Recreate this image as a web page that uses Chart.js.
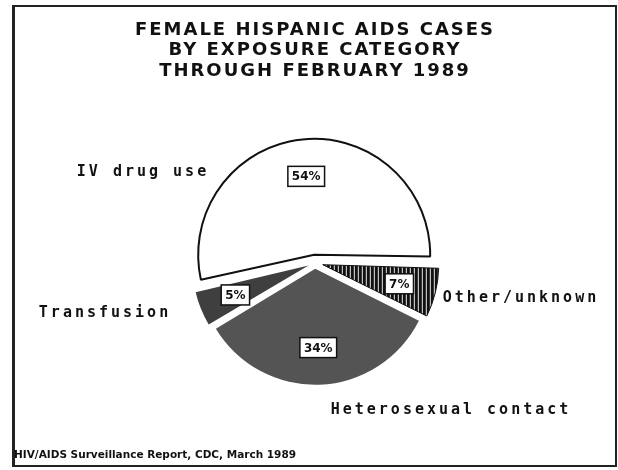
<!DOCTYPE html>
<html>
<head>
<meta charset="utf-8">
<script src="https://cdn.jsdelivr.net/npm/chart.js@4.4.1/dist/chart.umd.min.js"></script>
<style>
  body { margin: 0; background: #fff; }
  #wrap { position: relative; width: 618px; height: 470px; }
  #moldura {
    position: absolute; left: 12px; top: 5px; width: 600px; height: 458px;
    border: 2px solid #222; border-left-width: 3px; pointer-events: none;
  }
</style>
</head>
<body>
<div id="wrap">
  <canvas id="grafico" width="618" height="470"></canvas>
  <div id="moldura"></div>
</div>
<script>
// dados (percentual de casos)
const categorias = ['IV drug use', 'Other/unknown', 'Heterosexual contact', 'Transfusion']
const percentuais = [54, 7, 34, 5]
const rotulosPct = ['54%', '7%', '34%', '5%']

const titulo = ['FEMALE HISPANIC AIDS CASES', 'BY EXPOSURE CATEGORY', 'THROUGH FEBRUARY 1989']
const fonte = 'HIV/AIDS Surveillance Report, CDC, March 1989'

// hachura vertical da fatia "Other/unknown"
function hachura() {
  const c = document.createElement('canvas')
  c.width = 4
  c.height = 4
  const g = c.getContext('2d')
  g.fillStyle = '#111'
  g.fillRect(0, 0, 4, 4)
  g.fillStyle = '#e8e8e8'
  g.fillRect(2, 0, 1, 4)
  return g.createPattern(c, 'repeat')
}

const rotulosPlugin = {
  id: 'rotulos',
  beforeDraw(chart) {
    chart.ctx.letterSpacing = '2px'
  },
  beforeDatasetsDraw(chart) {
    // o Chart.js aumenta o raio das fatias deslocadas; desfaz isso
    // para que todas fiquem com o mesmo raio
    const meta = chart.getDatasetMeta(0)
    const raio = meta.controller.outerRadius
    meta.data.forEach(arc => {
      const circ = arc.endAngle - arc.startAngle
      const fix = 1 - Math.sin(Math.min(Math.PI, circ))
      arc.outerRadius = raio - (arc.options.offset / 4) * fix
    })
  },
  afterDatasetsDraw(chart, args, opts) {
    const ctx = chart.ctx
    const meta = chart.getDatasetMeta(0)
    const raio = meta.controller.outerRadius
    ctx.save()
    ctx.letterSpacing = '0px'
    ctx.textAlign = 'center'
    ctx.textBaseline = 'middle'

    // caixas com percentual dentro das fatias
    ctx.font = 'bold 12px "DejaVu Sans"'
    meta.data.forEach((arc, i) => {
      const p = arc.getProps(['x', 'y', 'startAngle', 'endAngle'])
      const meio = (p.startAngle + p.endAngle) / 2
      // o Chart.js desloca a fatia em offset / 4
      const r = arc.options.offset / 4 + raio * 0.68
      const x = p.x + Math.cos(meio) * r
      const y = p.y + Math.sin(meio) * r
      const w = ctx.measureText(rotulosPct[i]).width + 8
      const h = 20
      ctx.fillStyle = '#fff'
      ctx.fillRect(x - w / 2, y - h / 2, w, h)
      ctx.strokeStyle = '#111'
      ctx.lineWidth = 1.5
      ctx.strokeRect(x - w / 2, y - h / 2, w, h)
      ctx.fillStyle = '#111'
      ctx.fillText(rotulosPct[i], x, y + 1)
    })

    // nomes das categorias fora da pizza
    ctx.font = 'bold 15px "DejaVu Sans Mono"'
    ctx.letterSpacing = '3px'
    const cx = meta.data[0].x
    const cy = meta.data[0].y
    categorias.forEach((nome, i) => {
      const d = opts.posicoes[i]
      ctx.fillText(nome, cx + d[0], cy + d[1])
    })

    // fonte no rodape
    ctx.textAlign = 'left'
    ctx.font = 'bold 10.5px "DejaVu Sans"'
    ctx.letterSpacing = '0px'
    ctx.fillText(fonte, 14, 455)
    ctx.restore()
  },
  afterDraw(chart) {
    chart.ctx.letterSpacing = '0px'
  }
}

const ctx = document.getElementById('grafico').getContext('2d')

new Chart(ctx, {
  type: 'pie',
  data: {
    labels: categorias,
    datasets: [{
      data: percentuais,
      backgroundColor: ['#ffffff', hachura(), '#545454', '#3f3f3f'],
      borderColor: ['#111', '#111', '#545454', '#3f3f3f'],
      borderWidth: [2, 1, 0, 0],
      offset: [32, 32, 24, 28]
    }]
  },
  plugins: [rotulosPlugin],
  options: {
    responsive: false,
    animation: false,
    devicePixelRatio: 1,
    rotation: 257,
    radius: 116,
    layout: { padding: { left: 12, right: 0, top: 0, bottom: 36 } },
    plugins: {
      legend: { display: false },
      tooltip: { enabled: false },
      title: {
        display: true,
        text: titulo,
        color: '#111',
        font: { family: 'DejaVu Sans', size: 18, weight: 'bold', lineHeight: 1.14 },
        padding: { top: 20, bottom: 10 }
      },
      rotulos: {
        posicoes: [[-172, -91], [206, 35], [136, 147], [-210, 50]]
      }
    }
  }
})
</script>
</body>
</html>
